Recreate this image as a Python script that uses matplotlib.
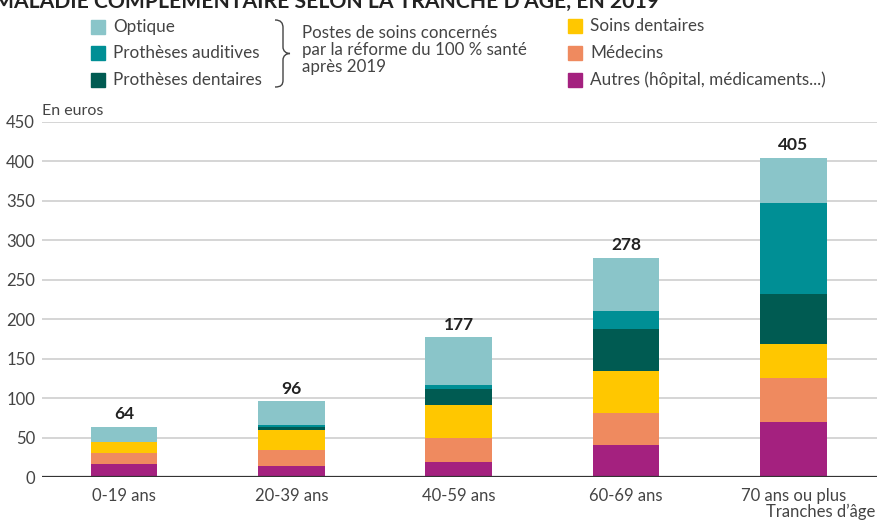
import matplotlib.pyplot as plt
from matplotlib.patches import Rectangle, PathPatch
from matplotlib.path import Path
import numpy as np

plt.rcParams['font.family'] = ['Lato', 'DejaVu Sans']

# Reste à charge par poste, en euros
categories = ['0-19 ans', '20-39 ans', '40-59 ans', '60-69 ans', '70 ans ou plus']
autres = [17, 14, 19, 40, 70]
medecins = [14, 20, 30, 41, 56]
soins_dentaires = [14, 25, 42, 53, 42]
protheses_dentaires = [0, 4, 20, 53, 64]
protheses_auditives = [0, 3, 6, 24, 115]
optique = [19, 30, 60, 67, 58]
totals = [64, 96, 177, 278, 405]
y_ticks = [0, 50, 100, 150, 200, 250, 300, 350, 400, 450]

colors = {
    'Optique': '#8ac5c9',
    'Prothèses auditives': '#008f95',
    'Prothèses dentaires': '#005b52',
    'Soins dentaires': '#ffc700',
    'Médecins': '#ef8a5f',
    'Autres (hôpital, médicaments...)': '#a4217f',
}

W, H = 877, 523
fig = plt.figure(figsize=(W / 100, H / 100), dpi=100)
ax = fig.add_axes([42 / W, 1 - 477 / H, 1 - 42 / W, (477 - 122) / H])

x = np.arange(len(categories))
stack = [
    (autres, 'Autres (hôpital, médicaments...)'),
    (medecins, 'Médecins'),
    (soins_dentaires, 'Soins dentaires'),
    (protheses_dentaires, 'Prothèses dentaires'),
    (protheses_auditives, 'Prothèses auditives'),
    (optique, 'Optique'),
]
bottom = np.zeros(len(categories))
for vals, name in stack:
    ax.bar(x, vals, bottom=bottom, width=0.4, color=colors[name], zorder=3)
    bottom += np.array(vals)

for xi, t in zip(x, totals):
    ax.text(xi, t + 6, str(t), ha='center', va='bottom', fontsize=12.5,
            fontweight='bold', color='#222222')

ax.set_xlim(-0.49, 4.5)
ax.set_ylim(0, 450)
ax.set_yticks(y_ticks)
ax.set_xticks(x)
ax.set_xticklabels(categories)
ax.tick_params(axis='both', length=0, labelsize=12, colors='#444444')
ax.tick_params(axis='x', pad=8)
ax.tick_params(axis='y', pad=5)
ax.grid(axis='y', color='#d2d2d2', linewidth=1.3, zorder=0)
ax.axhline(0, color='#333333', linewidth=1.6, zorder=4)
for s in ax.spines.values():
    s.set_visible(False)

ax.text(0, 1.01, 'En euros', transform=ax.transAxes, ha='left', va='bottom',
        fontsize=11.5, color='#444444')
fig.text(1 - 2 / W, 1 - 512 / H, 'Tranches d\u2019âge', ha='right', va='center',
         fontsize=12, color='#444444')

# titre tronqué en haut, comme sur l'image d'origine
fig.text(-6 / W, 1 - 8 / H, 'MALADIE COMPLÉMENTAIRE SELON LA TRANCHE D\u2019ÂGE, EN 2019',
         ha='left', va='baseline', fontsize=15.2, fontweight='bold', color='#222222')


def legend_item(px, py, label):
    fig.patches.append(Rectangle((px / W, 1 - (py + 7) / H), 14 / W, 14 / H,
                                 transform=fig.transFigure, color=colors[label]))
    fig.text((px + 22) / W, 1 - py / H, label, ha='left', va='center',
             fontsize=12.3, color='#444444')


legend_item(91, 27, 'Optique')
legend_item(91, 53, 'Prothèses auditives')
legend_item(91, 80, 'Prothèses dentaires')
legend_item(568, 26, 'Soins dentaires')
legend_item(568, 53, 'Médecins')
legend_item(568, 80, 'Autres (hôpital, médicaments...)')

# accolade
pts = [(275, 20), (281, 20), (283, 23), (283, 28),
       (283, 47),
       (283, 51), (286, 53.5), (290, 53.5),
       (286, 53.5), (283, 56), (283, 60),
       (283, 80),
       (283, 85), (281, 87), (275, 87)]
codes = [Path.MOVETO, Path.CURVE4, Path.CURVE4, Path.CURVE4,
         Path.LINETO,
         Path.CURVE4, Path.CURVE4, Path.CURVE4,
         Path.CURVE4, Path.CURVE4, Path.CURVE4,
         Path.LINETO,
         Path.CURVE4, Path.CURVE4, Path.CURVE4]
verts = [(px / W, 1 - py / H) for px, py in pts]
fig.patches.append(PathPatch(Path(verts, codes), transform=fig.transFigure,
                             fill=False, edgecolor='#444444', linewidth=1))

fig.text(302 / W, 1 - 50 / H, 'Postes de soins concernés\npar la réforme du 100 % santé\naprès 2019',
         ha='left', va='center', fontsize=12.2, color='#444444', linespacing=1.05)

fig.savefig('out.png', dpi=100)
